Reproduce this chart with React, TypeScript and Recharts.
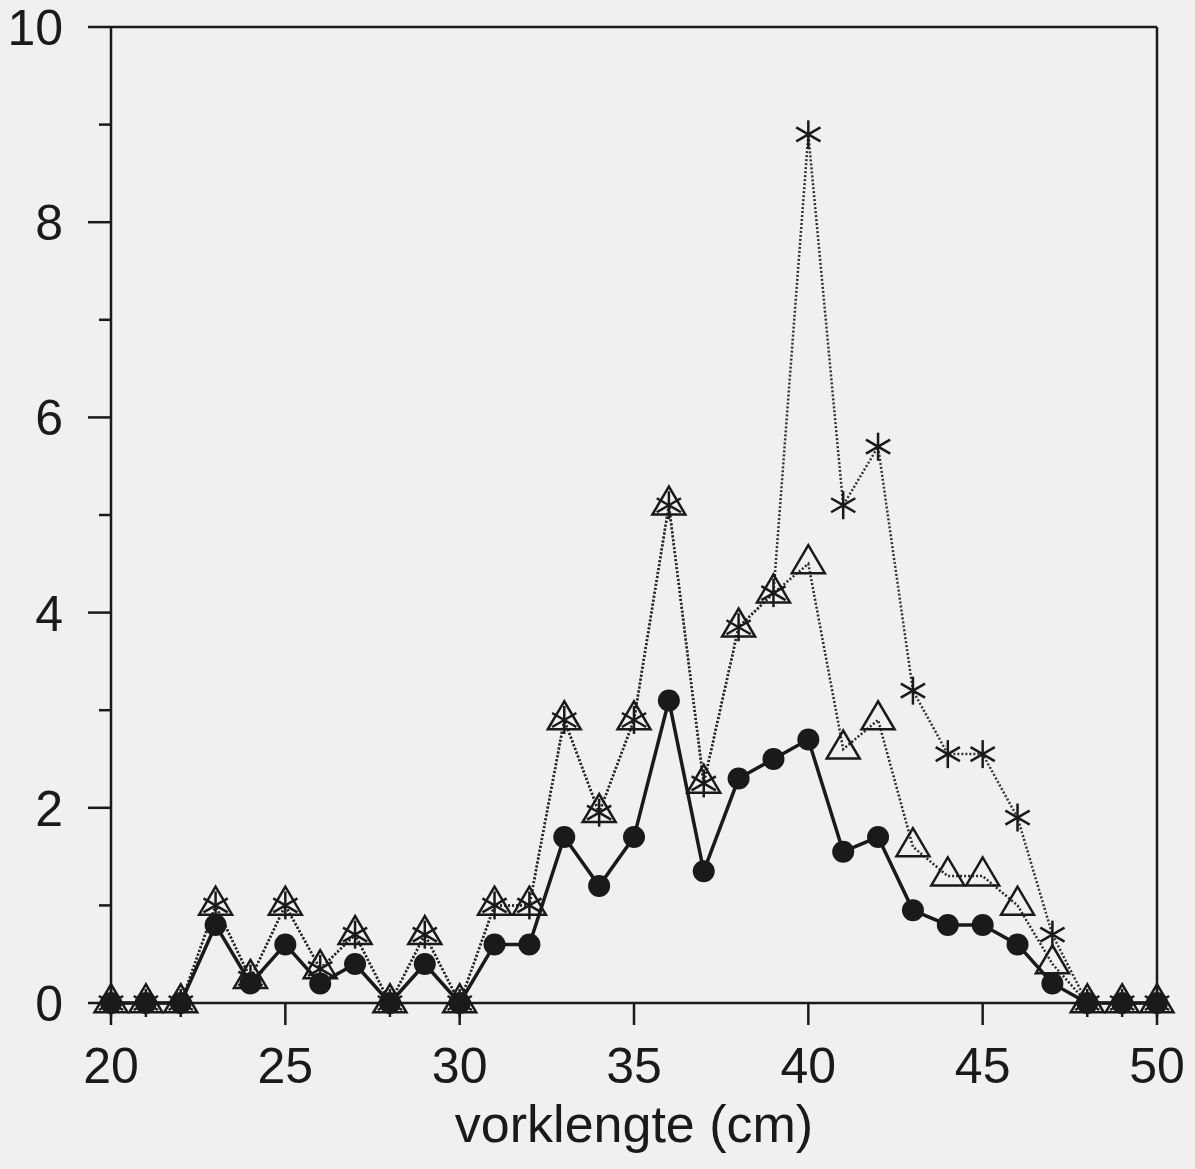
import { LineChart, Line, XAxis, YAxis, ReferenceLine } from "recharts";

// fork length classes (cm)
const lengthCm = [20, 21, 22, 23, 24, 25, 26, 27, 28, 29, 30, 31, 32, 33, 34, 35, 36, 37, 38, 39, 40, 41, 42, 43, 44, 45, 46, 47, 48, 49, 50];

// filled circles, solid line
const circleSeries = [0, 0, 0, 0.8, 0.2, 0.6, 0.2, 0.4, 0, 0.4, 0, 0.6, 0.6, 1.7, 1.2, 1.7, 3.1, 1.35, 2.3, 2.5, 2.7, 1.55, 1.7, 0.95, 0.8, 0.8, 0.6, 0.2, 0, 0, 0];

// open triangles, dotted line
const triangleSeries = [0, 0, 0, 1.0, 0.25, 1.0, 0.35, 0.7, 0, 0.7, 0, 1.0, 1.0, 2.9, 1.95, 2.9, 5.1, 2.25, 3.85, 4.2, 4.5, 2.6, 2.9, 1.6, 1.3, 1.3, 1.0, 0.4, 0, 0, 0];

// asterisks, dotted line
const starSeries = [0, 0, 0, 1.0, 0.25, 1.0, 0.35, 0.7, 0, 0.7, 0, 1.0, 1.0, 2.9, 1.95, 2.9, 5.1, 2.25, 3.85, 4.2, 8.9, 5.1, 5.7, 3.2, 2.55, 2.55, 1.9, 0.7, 0, 0, 0];

const xTicks = [20, 25, 30, 35, 40, 45, 50];
const yTicks = [0, 1, 2, 3, 4, 5, 6, 7, 8, 9, 10];
const yLabelled = [0, 2, 4, 6, 8, 10];

const rows = lengthCm.map((x, i) => ({
  x,
  circle: circleSeries[i],
  triangle: triangleSeries[i],
  star: starSeries[i],
}));

const INK = "#1a1a1a";
const FONT = "'Liberation Sans', Arial, sans-serif";

const XTick = (props: any) => {
  const { x, y, payload } = props;
  return (
    <g>
      <line x1={x} y1={y} x2={x} y2={y + 22} stroke={INK} strokeWidth={2.5} />
      <text x={x} y={y + 80} textAnchor="middle" fontSize={50} fontFamily={FONT} fill={INK}>
        {payload.value}
      </text>
    </g>
  );
};

const YTick = (props: any) => {
  const { x, y, payload } = props;
  const major = yLabelled.includes(payload.value);
  return (
    <g>
      <line x1={x - (major ? 23 : 12)} y1={y} x2={x} y2={y} stroke={INK} strokeWidth={2.5} />
      {major && (
        <text x={63} y={y + 18} textAnchor="end" fontSize={50} fontFamily={FONT} fill={INK}>
          {payload.value}
        </text>
      )}
    </g>
  );
};

const CircleDot = (props: any) => {
  const { cx, cy, index } = props;
  return <circle key={`c-${index}`} cx={cx} cy={cy} r={11} fill={INK} />;
};

const TriangleDot = (props: any) => {
  const { cx, cy, index } = props;
  const h = 28;
  const w = 33;
  const pts = `${cx},${cy - (2 * h) / 3} ${cx - w / 2},${cy + h / 3} ${cx + w / 2},${cy + h / 3}`;
  return <polygon key={`t-${index}`} points={pts} fill="none" stroke={INK} strokeWidth={2.5} />;
};

const StarDot = (props: any) => {
  const { cx, cy, index } = props;
  const r = 14;
  const dx = r * Math.cos(Math.PI / 6);
  const dy = r * Math.sin(Math.PI / 6);
  return (
    <g key={`s-${index}`} stroke={INK} strokeWidth={2.5}>
      <line x1={cx} y1={cy - r} x2={cx} y2={cy + r} />
      <line x1={cx - dx} y1={cy - dy} x2={cx + dx} y2={cy + dy} />
      <line x1={cx - dx} y1={cy + dy} x2={cx + dx} y2={cy - dy} />
    </g>
  );
};

export default function App() {
  return (
    <div
      style={{
        position: "absolute",
        left: 0,
        top: 0,
        width: 1195,
        height: 1169,
        background: "#f1eff0",
      }}
    >
      <LineChart
        width={1195}
        height={1169}
        data={rows}
        margin={{ top: 27, right: 38, left: 0, bottom: 0 }}
      >
        <XAxis
          dataKey="x"
          type="number"
          domain={[20, 50]}
          ticks={xTicks}
          height={166}
          tickSize={0}
          tickMargin={0}
          tickLine={false}
          axisLine={{ stroke: INK, strokeWidth: 2.5 }}
          tick={<XTick />}
          interval={0}
          label={{
            value: "vorklengte (cm)",
            position: "insideBottom",
            offset: 27,
            fontSize: 52,
            fontFamily: FONT,
            fill: INK,
          }}
        />
        <YAxis
          type="number"
          domain={[0, 10]}
          ticks={yTicks}
          width={111}
          tickSize={0}
          tickMargin={0}
          tickLine={false}
          axisLine={{ stroke: INK, strokeWidth: 2.5 }}
          tick={<YTick />}
          interval={0}
        />
        <ReferenceLine y={10} stroke={INK} strokeWidth={2.5} />
        <ReferenceLine x={50} stroke={INK} strokeWidth={2.5} />
        <Line
          dataKey="star"
          stroke="#333"
          strokeWidth={2.5}
          strokeDasharray="2 2"
          dot={StarDot}
          activeDot={false}
          isAnimationActive={false}
        />
        <Line
          dataKey="triangle"
          stroke="#2a2a2a"
          strokeWidth={2.5}
          strokeDasharray="2 2"
          dot={TriangleDot}
          activeDot={false}
          isAnimationActive={false}
        />
        <Line
          dataKey="circle"
          stroke={INK}
          strokeWidth={3.5}
          dot={CircleDot}
          activeDot={false}
          isAnimationActive={false}
        />
      </LineChart>
    </div>
  );
}
